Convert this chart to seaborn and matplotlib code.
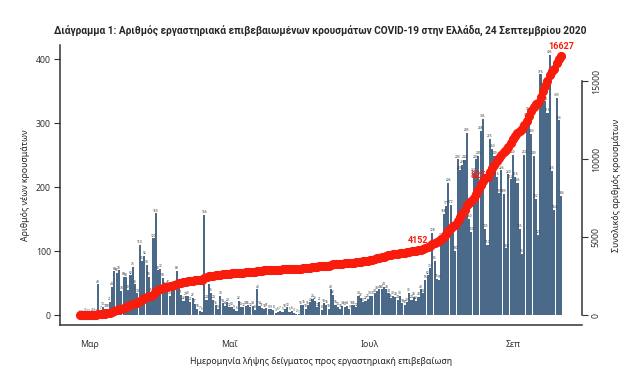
import numpy as np
import pandas as pd
import matplotlib
matplotlib.use('Agg')
import matplotlib.pyplot as plt
import seaborn as sns

# daily new lab-confirmed cases by sampling date
feb_cases = [1, 1, 3, 2]
mar_cases = [2, 4, 3, 2, 48, 7, 13, 10, 10, 21, 44, 68, 66, 70, 38, 60,
             59, 39, 62, 75, 48, 34, 110, 85, 92, 78, 60, 35, 120, 159, 70]
apr_cases = [72, 58, 45, 47, 30, 38, 41, 69, 45, 31, 22, 29, 30, 21, 27, 17,
             10, 7, 5, 156, 24, 49, 35, 24, 15, 9, 30, 18, 14, 20]
may_cases = [12, 13, 9, 6, 22, 13, 12, 14, 15, 12, 14, 8, 40, 14, 11, 10,
             11, 9, 9, 8, 3, 5, 7, 5, 10, 12, 5, 6, 3, 2, 1]
jun_cases = [15, 16, 10, 15, 20, 25, 22, 12, 21, 8, 18, 16, 10, 40, 32, 16,
             13, 10, 14, 13, 14, 9, 15, 15, 12, 30, 27, 20, 22, 25]
jul_cases = [30, 30, 34, 38, 40, 40, 44, 40, 34, 26, 30, 28, 24, 30, 18, 16,
             20, 35, 24, 28, 22, 28, 40, 34, 55, 62, 73, 128, 85, 56, 55]
aug_cases = [121, 158, 171, 206, 172, 130, 100, 243, 226, 235, 242, 285, 150,
             130, 222, 243, 249, 288, 306, 135, 110, 275, 260, 249, 216, 190,
             226, 189, 104, 220, 212]
sep_cases = [250, 216, 206, 135, 96, 250, 308, 318, 283, 249, 182, 125, 376,
             356, 334, 316, 406, 225, 164, 339, 304, 186]

month_labels = ['Μαρ', 'Μαΐ', 'Ιουλ', 'Σεπ']
month_dates = ['2020-03-01', '2020-05-01', '2020-07-01', '2020-09-01']

cum_labels = ['4152', '8252', '16627']
cum_label_dates = ['2020-07-22', '2020-08-18', '2020-09-22']

daily = feb_cases + mar_cases + apr_cases + may_cases + jun_cases + jul_cases + aug_cases + sep_cases
dates = pd.date_range('2020-02-26', periods=len(daily), freq='D')
df = pd.DataFrame({'day': np.arange(len(daily)), 'date': dates, 'cases': daily})
df['total'] = df['cases'].cumsum()

bar_col = '#4b6a89'
red = '#f81c0c'

sns.set_style('white')
plt.rcParams['font.family'] = ['Noto Sans', 'DejaVu Sans']

fig = plt.figure(figsize=(6.35, 3.74), dpi=100)
ax = fig.add_axes([60 / 635, 49 / 374, 522 / 635, 280 / 374])

sns.barplot(data=df, x='day', y='cases', color=bar_col, saturation=1,
            width=0.92, linewidth=0, ax=ax)
ax.bar_label(ax.containers[0], fontsize=2.3, color='#333333', padding=0.5)

ax.set_xlim(-8.6, 218)
ax.set_ylim(-15.6, 421.9)
tick_pos = [int(df.index[df['date'] == pd.Timestamp(d)][0]) for d in month_dates]
ax.set_xticks(tick_pos)
ax.set_xticklabels(month_labels)
ax.set_yticks([0, 100, 200, 300, 400])
ax.tick_params(axis='y', length=4.5, width=0.8, colors='#333333', labelsize=6.3, pad=2)
ax.tick_params(axis='x', length=4, width=0.8, colors='#333333', labelsize=6.3, pad=7)
for s in ['top', 'right']:
    ax.spines[s].set_visible(False)
for s in ['left', 'bottom']:
    ax.spines[s].set_color('#333333')
    ax.spines[s].set_linewidth(1.1)
ax.set_xlabel('Ημερομηνία λήψης δείγματος προς εργαστηριακή επιβεβαίωση', fontsize=6.3, color='#222222')
ax.xaxis.set_label_coords(0.5, -0.115)
ax.set_ylabel('Αριθμός νέων κρουσμάτων', fontsize=6.3, color='#222222')
ax.yaxis.set_label_coords(-0.058, 0.5)

ax2 = ax.twinx()
ax2.plot(df['day'], df['total'], 'o', ms=6.6, color=red, mec=red, mew=0)
ax2.set_ylim(-641, 17308)
ax2.set_yticks([0, 5000, 10000, 15000])
for s in ['top', 'left', 'bottom']:
    ax2.spines[s].set_visible(False)
ax2.spines['right'].set_bounds(0, 15000)
ax2.spines['right'].set_color('#333333')
ax2.spines['right'].set_linewidth(1.1)
ax2.tick_params(axis='y', length=4, width=0.8, colors='#333333', labelsize=6.3, pad=3)
for lab in ax2.get_yticklabels():
    lab.set_rotation(90)
    lab.set_va('center')
ax2.set_ylabel('Συνολικός αριθμός κρουσμάτων', fontsize=6.3, color='#222222')
ax2.yaxis.set_label_coords(1.057, 0.5)

for txt, d in zip(cum_labels, cum_label_dates):
    row = df[df['date'] == pd.Timestamp(d)].iloc[0]
    ax2.annotate(txt, (row['day'], row['total']), xytext=(0, 3.5), textcoords='offset points',
                 ha='center', va='bottom', color=red, fontsize=6.5, fontweight='bold',
                 family=['Roboto', 'DejaVu Sans'])

fig.text(0.505, 1 - 30 / 374,
         'Διάγραμμα 1: Αριθμός εργαστηριακά επιβεβαιωμένων κρουσμάτων COVID-19 στην Ελλάδα, 24 Σεπτεμβρίου 2020',
         ha='center', va='center', fontsize=7.3, fontweight='bold',
         family=['Liberation Sans Narrow', 'Roboto', 'DejaVu Sans'])

fig.savefig('out.png', dpi=100)
